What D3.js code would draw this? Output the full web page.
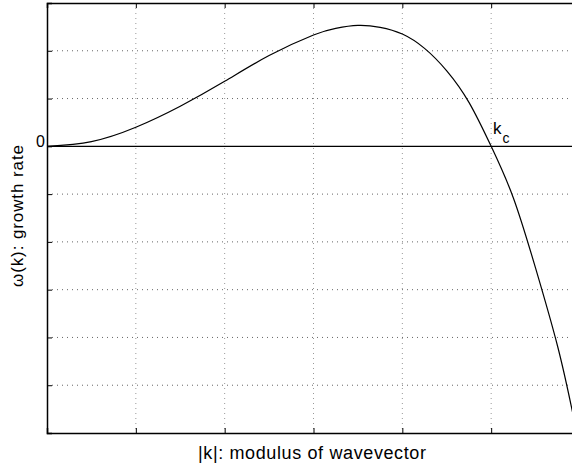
<!DOCTYPE html>
<html>
<head>
<meta charset="utf-8">
<script src="https://cdn.jsdelivr.net/npm/d3@7"></script>
<style>
  body { margin: 0; background: #fff; }
  svg { display: block; font-family: "Liberation Sans", Arial, sans-serif; }
</style>
</head>
<body>
<div id="chart"></div>
<script>
// growth rate curve
var kValues = [0, 0.5, 1, 1.5, 2, 2.5, 3, 3.25, 3.5, 3.75, 4, 4.25, 4.5, 4.75, 5, 5.25, 5.5, 5.75, 5.92];
var omegaValues = [0, 0.1, 0.4, 0.84, 1.36, 1.9, 2.33, 2.47, 2.53, 2.49, 2.35, 2.05, 1.58, 0.92, 0, -1.08, -2.55, -4.2, -5.6];
var xTicks = [0, 1, 2, 3, 4, 5, 6];
var yTicks = [-6, -5, -4, -3, -2, -1, 0, 1, 2, 3];

var W = 572, H = 464;
var margin = { top: 3, left: 47, bottom: 31 };

var svg = d3.select("#chart").append("svg")
  .attr("width", W)
  .attr("height", H);

var x = d3.scaleLinear().domain([0, 6]).range([margin.left, 580]);
var y = d3.scaleLinear().domain([-6, 3]).range([H - margin.bottom, margin.top]);

// grid
svg.append("g")
  .selectAll("line")
  .data(xTicks.slice(1))
  .enter().append("line")
  .attr("x1", function (d) { return x(d); })
  .attr("x2", function (d) { return x(d); })
  .attr("y1", y(3))
  .attr("y2", y(-6))
  .attr("stroke", "#999")
  .attr("stroke-dasharray", "1,4");

svg.append("g")
  .selectAll("line")
  .data(yTicks.filter(function (d) { return d !== 0 && d !== -6 && d !== 3; }))
  .enter().append("line")
  .attr("x1", x(0))
  .attr("x2", x(6))
  .attr("y1", function (d) { return y(d); })
  .attr("y2", function (d) { return y(d); })
  .attr("stroke", "#666")
  .attr("stroke-dasharray", "1,4");

// axes with inward ticks
svg.append("g")
  .attr("transform", "translate(0," + y(-6) + ")")
  .call(d3.axisTop(x).tickValues(xTicks).tickSize(5).tickFormat(""))
  .call(function (g) { g.select(".domain").attr("stroke-width", 1.5); });

svg.append("g")
  .attr("transform", "translate(0," + y(3) + ")")
  .call(d3.axisBottom(x).tickValues(xTicks).tickSize(5).tickFormat(""))
  .call(function (g) { g.select(".domain").attr("stroke-width", 1.5); });

svg.append("g")
  .attr("transform", "translate(" + x(0) + ",0)")
  .call(d3.axisRight(y).tickValues(yTicks).tickSize(5).tickFormat(""))
  .call(function (g) { g.select(".domain").attr("stroke-width", 1.5); });

// zero line
svg.append("line")
  .attr("x1", x(0))
  .attr("x2", x(6))
  .attr("y1", y(0))
  .attr("y2", y(0))
  .attr("stroke", "#000")
  .attr("stroke-width", 1.2);

// curve
var pts = kValues.map(function (k, i) { return [k, omegaValues[i]]; });
var line = d3.line()
  .x(function (d) { return x(d[0]); })
  .y(function (d) { return y(d[1]); })
  .curve(d3.curveNatural);

svg.append("path")
  .datum(pts)
  .attr("d", line)
  .attr("fill", "none")
  .attr("stroke", "#000")
  .attr("stroke-width", 1.2);

// labels
svg.append("text")
  .attr("x", x(0) - 2)
  .attr("y", y(0) + 1)
  .attr("text-anchor", "end")
  .attr("font-size", "16px")
  .text("0");

var kc = svg.append("text")
  .attr("x", 493)
  .attr("y", 134)
  .attr("font-size", "17px");
kc.append("tspan").text("k");
kc.append("tspan").attr("dx", 1).attr("dy", 9).attr("font-size", "14px").text("c");

svg.append("text")
  .attr("x", 312)
  .attr("y", 459)
  .attr("text-anchor", "middle")
  .attr("font-size", "18px")
  .attr("textLength", 228)
  .attr("lengthAdjust", "spacing")
  .text("|k|: modulus of wavevector");

svg.append("text")
  .attr("transform", "translate(23,216) rotate(-90)")
  .attr("text-anchor", "middle")
  .attr("font-size", "17px")
  .attr("textLength", 142)
  .attr("lengthAdjust", "spacing")
  .text("ω(k): growth rate");
</script>
</body>
</html>
